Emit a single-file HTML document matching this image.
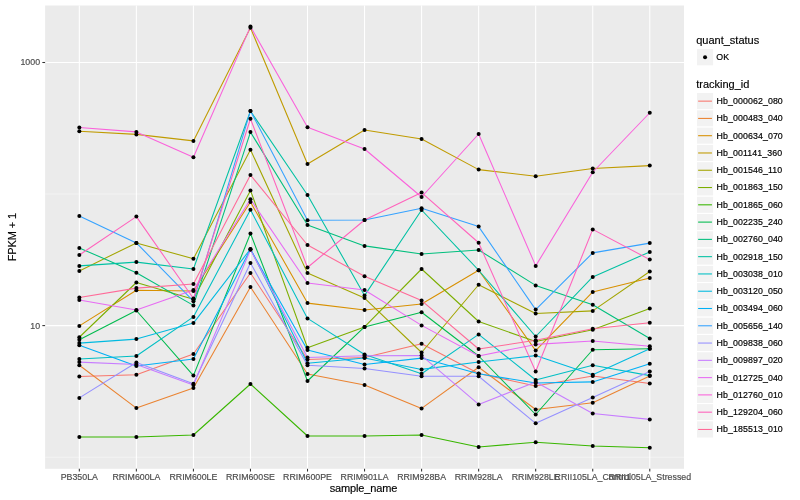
<!DOCTYPE html>
<html><head><meta charset="utf-8"><title>plot</title>
<style>
html,body{margin:0;padding:0;background:#fff;}
body{width:800px;height:500px;overflow:hidden;}
svg{display:block;will-change:transform;}
text{font-family:"Liberation Sans",sans-serif;}
.ax{font-size:8.8px;fill:#4D4D4D;stroke:#4D4D4D;stroke-width:0.18px;}
.lt{font-size:11px;fill:#000;stroke:#000;stroke-width:0.15px;}
.ll{font-size:8.8px;fill:#000;letter-spacing:0.1px;stroke:#000;stroke-width:0.18px;}
</style></head><body>
<svg width="800" height="500" viewBox="0 0 800 500">
<rect x="0" y="0" width="800" height="500" fill="#FFFFFF"/>
<rect x="45.1" y="5.5" width="638.9" height="463.3" fill="#EBEBEB"/>
<line x1="45.1" x2="684.0" y1="194.0" y2="194.0" stroke="#F3F3F3" stroke-width="1"/>
<line x1="45.1" x2="684.0" y1="457.3" y2="457.3" stroke="#F3F3F3" stroke-width="1"/>
<line x1="45.1" x2="684.0" y1="62.5" y2="62.5" stroke="#FFFFFF" stroke-width="1.07"/>
<line x1="45.1" x2="684.0" y1="325.6" y2="325.6" stroke="#FFFFFF" stroke-width="1.07"/>
<line x1="79.33" x2="79.33" y1="5.5" y2="468.8" stroke="#FFFFFF" stroke-width="1.07"/>
<line x1="136.37" x2="136.37" y1="5.5" y2="468.8" stroke="#FFFFFF" stroke-width="1.07"/>
<line x1="193.42" x2="193.42" y1="5.5" y2="468.8" stroke="#FFFFFF" stroke-width="1.07"/>
<line x1="250.46" x2="250.46" y1="5.5" y2="468.8" stroke="#FFFFFF" stroke-width="1.07"/>
<line x1="307.51" x2="307.51" y1="5.5" y2="468.8" stroke="#FFFFFF" stroke-width="1.07"/>
<line x1="364.55" x2="364.55" y1="5.5" y2="468.8" stroke="#FFFFFF" stroke-width="1.07"/>
<line x1="421.59" x2="421.59" y1="5.5" y2="468.8" stroke="#FFFFFF" stroke-width="1.07"/>
<line x1="478.64" x2="478.64" y1="5.5" y2="468.8" stroke="#FFFFFF" stroke-width="1.07"/>
<line x1="535.68" x2="535.68" y1="5.5" y2="468.8" stroke="#FFFFFF" stroke-width="1.07"/>
<line x1="592.73" x2="592.73" y1="5.5" y2="468.8" stroke="#FFFFFF" stroke-width="1.07"/>
<line x1="649.77" x2="649.77" y1="5.5" y2="468.8" stroke="#FFFFFF" stroke-width="1.07"/>
<g fill="none" stroke-width="1.07" stroke-linejoin="round" stroke-linecap="butt">
<polyline points="79.33,376.50 136.37,374.75 193.42,354.00 250.46,273.00 307.51,359.50 364.55,357.50 421.59,343.75 478.64,373.50 535.68,386.00 592.73,376.00 649.77,383.50" stroke="#F8766D"/>
<polyline points="79.33,365.25 136.37,408.10 193.42,387.90 250.46,287.00 307.51,374.00 364.55,385.00 421.59,408.40 478.64,367.25 535.68,409.50 592.73,402.75 649.77,375.90" stroke="#EA8331"/>
<polyline points="79.33,325.90 136.37,290.25 193.42,291.00 250.46,202.00 307.51,303.10 364.55,310.00 421.59,304.00 478.64,270.25 535.68,350.60 592.73,291.90 649.77,278.10" stroke="#D89000"/>
<polyline points="79.33,131.25 136.37,134.40 193.42,140.90 250.46,27.80 307.51,164.00 364.55,130.00 421.59,139.00 478.64,169.60 535.68,176.25 592.73,168.50 649.77,165.60" stroke="#C09B00"/>
<polyline points="79.33,270.90 136.37,242.90 193.42,258.75 250.46,149.70 307.51,273.10 364.55,298.10 421.59,352.50 478.64,284.75 535.68,313.50 592.73,310.90 649.77,271.50" stroke="#A3A500"/>
<polyline points="79.33,337.25 136.37,282.50 193.42,299.30 250.46,190.40 307.51,347.80 364.55,326.90 421.59,269.00 478.64,321.50 535.68,341.60 592.73,329.70 649.77,308.40" stroke="#7CAE00"/>
<polyline points="79.33,437.00 136.37,437.00 193.42,435.00 250.46,384.00 307.51,436.00 364.55,436.00 421.59,435.00 478.64,447.00 535.68,442.20 592.73,446.00 649.77,447.80" stroke="#39B600"/>
<polyline points="79.33,339.75 136.37,310.50 193.42,375.60 250.46,233.50 307.51,381.00 364.55,326.90 421.59,312.25 478.64,356.00 535.68,414.50 592.73,349.75 649.77,348.75" stroke="#00BB4E"/>
<polyline points="79.33,247.90 136.37,272.75 193.42,305.40 250.46,132.10 307.51,225.00 364.55,245.90 421.59,254.00 478.64,250.00 535.68,285.40 592.73,304.75 649.77,338.50" stroke="#00BF7D"/>
<polyline points="79.33,265.90 136.37,262.10 193.42,269.00 250.46,111.00 307.51,195.00 364.55,295.60 421.59,210.00 478.64,270.25 535.68,336.50 592.73,276.90 649.77,251.90" stroke="#00C1A3"/>
<polyline points="79.33,359.00 136.37,356.00 193.42,316.90 250.46,209.80 307.51,318.40 364.55,354.50 421.59,373.75 478.64,334.40 535.68,380.00 592.73,365.25 649.77,375.60" stroke="#00BFC4"/>
<polyline points="79.33,343.10 136.37,339.10 193.42,323.10 250.46,249.00 307.51,363.30 364.55,358.00 421.59,369.40 478.64,362.00 535.68,355.60 592.73,374.75 649.77,348.75" stroke="#00BAE0"/>
<polyline points="79.33,345.25 136.37,366.00 193.42,359.00 250.46,249.30 307.51,350.00 364.55,364.50 421.59,358.10 478.64,373.75 535.68,383.00 592.73,381.90 649.77,363.75" stroke="#00B0F6"/>
<polyline points="79.33,215.90 136.37,242.90 193.42,301.20 250.46,110.90 307.51,220.25 364.55,220.00 421.59,208.25 478.64,226.60 535.68,309.60 592.73,252.90 649.77,243.10" stroke="#35A2FF"/>
<polyline points="79.33,397.90 136.37,362.50 193.42,383.75 250.46,263.00 307.51,365.30 364.55,368.50 421.59,376.25 478.64,376.25 535.68,423.30 592.73,397.50 649.77,371.50" stroke="#9590FF"/>
<polyline points="79.33,362.10 136.37,364.50 193.42,385.00 250.46,249.80 307.51,357.50 364.55,355.70 421.59,355.60 478.64,404.40 535.68,382.00 592.73,413.50 649.77,419.40" stroke="#C77CFF"/>
<polyline points="79.33,300.00 136.37,310.00 193.42,290.00 250.46,199.30 307.51,283.00 364.55,290.00 421.59,325.40 478.64,356.00 535.68,344.40 592.73,341.00 649.77,346.25" stroke="#E76BF3"/>
<polyline points="79.33,127.50 136.37,131.90 193.42,157.25 250.46,26.60 307.51,127.25 364.55,149.00 421.59,197.00 478.64,134.00 535.68,265.90 592.73,172.25 649.77,112.75" stroke="#FA62DB"/>
<polyline points="79.33,255.00 136.37,216.60 193.42,298.50 250.46,118.75 307.51,267.50 364.55,220.00 421.59,192.60 478.64,242.75 535.68,371.50 592.73,229.40 649.77,259.60" stroke="#FF62BC"/>
<polyline points="79.33,297.50 136.37,288.10 193.42,284.00 250.46,175.00 307.51,245.00 364.55,276.25 421.59,300.60 478.64,349.00 535.68,340.30 592.73,328.70 649.77,322.75" stroke="#FF6A98"/>
</g>
<g fill="#000000">
<circle cx="79.33" cy="376.50" r="2"/><circle cx="136.37" cy="374.75" r="2"/><circle cx="193.42" cy="354.00" r="2"/><circle cx="250.46" cy="273.00" r="2"/><circle cx="307.51" cy="359.50" r="2"/><circle cx="364.55" cy="357.50" r="2"/><circle cx="421.59" cy="343.75" r="2"/><circle cx="478.64" cy="373.50" r="2"/><circle cx="535.68" cy="386.00" r="2"/><circle cx="592.73" cy="376.00" r="2"/><circle cx="649.77" cy="383.50" r="2"/>
<circle cx="79.33" cy="365.25" r="2"/><circle cx="136.37" cy="408.10" r="2"/><circle cx="193.42" cy="387.90" r="2"/><circle cx="250.46" cy="287.00" r="2"/><circle cx="307.51" cy="374.00" r="2"/><circle cx="364.55" cy="385.00" r="2"/><circle cx="421.59" cy="408.40" r="2"/><circle cx="478.64" cy="367.25" r="2"/><circle cx="535.68" cy="409.50" r="2"/><circle cx="592.73" cy="402.75" r="2"/><circle cx="649.77" cy="375.90" r="2"/>
<circle cx="79.33" cy="325.90" r="2"/><circle cx="136.37" cy="290.25" r="2"/><circle cx="193.42" cy="291.00" r="2"/><circle cx="250.46" cy="202.00" r="2"/><circle cx="307.51" cy="303.10" r="2"/><circle cx="364.55" cy="310.00" r="2"/><circle cx="421.59" cy="304.00" r="2"/><circle cx="478.64" cy="270.25" r="2"/><circle cx="535.68" cy="350.60" r="2"/><circle cx="592.73" cy="291.90" r="2"/><circle cx="649.77" cy="278.10" r="2"/>
<circle cx="79.33" cy="131.25" r="2"/><circle cx="136.37" cy="134.40" r="2"/><circle cx="193.42" cy="140.90" r="2"/><circle cx="250.46" cy="27.80" r="2"/><circle cx="307.51" cy="164.00" r="2"/><circle cx="364.55" cy="130.00" r="2"/><circle cx="421.59" cy="139.00" r="2"/><circle cx="478.64" cy="169.60" r="2"/><circle cx="535.68" cy="176.25" r="2"/><circle cx="592.73" cy="168.50" r="2"/><circle cx="649.77" cy="165.60" r="2"/>
<circle cx="79.33" cy="270.90" r="2"/><circle cx="136.37" cy="242.90" r="2"/><circle cx="193.42" cy="258.75" r="2"/><circle cx="250.46" cy="149.70" r="2"/><circle cx="307.51" cy="273.10" r="2"/><circle cx="364.55" cy="298.10" r="2"/><circle cx="421.59" cy="352.50" r="2"/><circle cx="478.64" cy="284.75" r="2"/><circle cx="535.68" cy="313.50" r="2"/><circle cx="592.73" cy="310.90" r="2"/><circle cx="649.77" cy="271.50" r="2"/>
<circle cx="79.33" cy="337.25" r="2"/><circle cx="136.37" cy="282.50" r="2"/><circle cx="193.42" cy="299.30" r="2"/><circle cx="250.46" cy="190.40" r="2"/><circle cx="307.51" cy="347.80" r="2"/><circle cx="364.55" cy="326.90" r="2"/><circle cx="421.59" cy="269.00" r="2"/><circle cx="478.64" cy="321.50" r="2"/><circle cx="535.68" cy="341.60" r="2"/><circle cx="592.73" cy="329.70" r="2"/><circle cx="649.77" cy="308.40" r="2"/>
<circle cx="79.33" cy="437.00" r="2"/><circle cx="136.37" cy="437.00" r="2"/><circle cx="193.42" cy="435.00" r="2"/><circle cx="250.46" cy="384.00" r="2"/><circle cx="307.51" cy="436.00" r="2"/><circle cx="364.55" cy="436.00" r="2"/><circle cx="421.59" cy="435.00" r="2"/><circle cx="478.64" cy="447.00" r="2"/><circle cx="535.68" cy="442.20" r="2"/><circle cx="592.73" cy="446.00" r="2"/><circle cx="649.77" cy="447.80" r="2"/>
<circle cx="79.33" cy="339.75" r="2"/><circle cx="136.37" cy="310.50" r="2"/><circle cx="193.42" cy="375.60" r="2"/><circle cx="250.46" cy="233.50" r="2"/><circle cx="307.51" cy="381.00" r="2"/><circle cx="364.55" cy="326.90" r="2"/><circle cx="421.59" cy="312.25" r="2"/><circle cx="478.64" cy="356.00" r="2"/><circle cx="535.68" cy="414.50" r="2"/><circle cx="592.73" cy="349.75" r="2"/><circle cx="649.77" cy="348.75" r="2"/>
<circle cx="79.33" cy="247.90" r="2"/><circle cx="136.37" cy="272.75" r="2"/><circle cx="193.42" cy="305.40" r="2"/><circle cx="250.46" cy="132.10" r="2"/><circle cx="307.51" cy="225.00" r="2"/><circle cx="364.55" cy="245.90" r="2"/><circle cx="421.59" cy="254.00" r="2"/><circle cx="478.64" cy="250.00" r="2"/><circle cx="535.68" cy="285.40" r="2"/><circle cx="592.73" cy="304.75" r="2"/><circle cx="649.77" cy="338.50" r="2"/>
<circle cx="79.33" cy="265.90" r="2"/><circle cx="136.37" cy="262.10" r="2"/><circle cx="193.42" cy="269.00" r="2"/><circle cx="250.46" cy="111.00" r="2"/><circle cx="307.51" cy="195.00" r="2"/><circle cx="364.55" cy="295.60" r="2"/><circle cx="421.59" cy="210.00" r="2"/><circle cx="478.64" cy="270.25" r="2"/><circle cx="535.68" cy="336.50" r="2"/><circle cx="592.73" cy="276.90" r="2"/><circle cx="649.77" cy="251.90" r="2"/>
<circle cx="79.33" cy="359.00" r="2"/><circle cx="136.37" cy="356.00" r="2"/><circle cx="193.42" cy="316.90" r="2"/><circle cx="250.46" cy="209.80" r="2"/><circle cx="307.51" cy="318.40" r="2"/><circle cx="364.55" cy="354.50" r="2"/><circle cx="421.59" cy="373.75" r="2"/><circle cx="478.64" cy="334.40" r="2"/><circle cx="535.68" cy="380.00" r="2"/><circle cx="592.73" cy="365.25" r="2"/><circle cx="649.77" cy="375.60" r="2"/>
<circle cx="79.33" cy="343.10" r="2"/><circle cx="136.37" cy="339.10" r="2"/><circle cx="193.42" cy="323.10" r="2"/><circle cx="250.46" cy="249.00" r="2"/><circle cx="307.51" cy="363.30" r="2"/><circle cx="364.55" cy="358.00" r="2"/><circle cx="421.59" cy="369.40" r="2"/><circle cx="478.64" cy="362.00" r="2"/><circle cx="535.68" cy="355.60" r="2"/><circle cx="592.73" cy="374.75" r="2"/><circle cx="649.77" cy="348.75" r="2"/>
<circle cx="79.33" cy="345.25" r="2"/><circle cx="136.37" cy="366.00" r="2"/><circle cx="193.42" cy="359.00" r="2"/><circle cx="250.46" cy="249.30" r="2"/><circle cx="307.51" cy="350.00" r="2"/><circle cx="364.55" cy="364.50" r="2"/><circle cx="421.59" cy="358.10" r="2"/><circle cx="478.64" cy="373.75" r="2"/><circle cx="535.68" cy="383.00" r="2"/><circle cx="592.73" cy="381.90" r="2"/><circle cx="649.77" cy="363.75" r="2"/>
<circle cx="79.33" cy="215.90" r="2"/><circle cx="136.37" cy="242.90" r="2"/><circle cx="193.42" cy="301.20" r="2"/><circle cx="250.46" cy="110.90" r="2"/><circle cx="307.51" cy="220.25" r="2"/><circle cx="364.55" cy="220.00" r="2"/><circle cx="421.59" cy="208.25" r="2"/><circle cx="478.64" cy="226.60" r="2"/><circle cx="535.68" cy="309.60" r="2"/><circle cx="592.73" cy="252.90" r="2"/><circle cx="649.77" cy="243.10" r="2"/>
<circle cx="79.33" cy="397.90" r="2"/><circle cx="136.37" cy="362.50" r="2"/><circle cx="193.42" cy="383.75" r="2"/><circle cx="250.46" cy="263.00" r="2"/><circle cx="307.51" cy="365.30" r="2"/><circle cx="364.55" cy="368.50" r="2"/><circle cx="421.59" cy="376.25" r="2"/><circle cx="478.64" cy="376.25" r="2"/><circle cx="535.68" cy="423.30" r="2"/><circle cx="592.73" cy="397.50" r="2"/><circle cx="649.77" cy="371.50" r="2"/>
<circle cx="79.33" cy="362.10" r="2"/><circle cx="136.37" cy="364.50" r="2"/><circle cx="193.42" cy="385.00" r="2"/><circle cx="250.46" cy="249.80" r="2"/><circle cx="307.51" cy="357.50" r="2"/><circle cx="364.55" cy="355.70" r="2"/><circle cx="421.59" cy="355.60" r="2"/><circle cx="478.64" cy="404.40" r="2"/><circle cx="535.68" cy="382.00" r="2"/><circle cx="592.73" cy="413.50" r="2"/><circle cx="649.77" cy="419.40" r="2"/>
<circle cx="79.33" cy="300.00" r="2"/><circle cx="136.37" cy="310.00" r="2"/><circle cx="193.42" cy="290.00" r="2"/><circle cx="250.46" cy="199.30" r="2"/><circle cx="307.51" cy="283.00" r="2"/><circle cx="364.55" cy="290.00" r="2"/><circle cx="421.59" cy="325.40" r="2"/><circle cx="478.64" cy="356.00" r="2"/><circle cx="535.68" cy="344.40" r="2"/><circle cx="592.73" cy="341.00" r="2"/><circle cx="649.77" cy="346.25" r="2"/>
<circle cx="79.33" cy="127.50" r="2"/><circle cx="136.37" cy="131.90" r="2"/><circle cx="193.42" cy="157.25" r="2"/><circle cx="250.46" cy="26.60" r="2"/><circle cx="307.51" cy="127.25" r="2"/><circle cx="364.55" cy="149.00" r="2"/><circle cx="421.59" cy="197.00" r="2"/><circle cx="478.64" cy="134.00" r="2"/><circle cx="535.68" cy="265.90" r="2"/><circle cx="592.73" cy="172.25" r="2"/><circle cx="649.77" cy="112.75" r="2"/>
<circle cx="79.33" cy="255.00" r="2"/><circle cx="136.37" cy="216.60" r="2"/><circle cx="193.42" cy="298.50" r="2"/><circle cx="250.46" cy="118.75" r="2"/><circle cx="307.51" cy="267.50" r="2"/><circle cx="364.55" cy="220.00" r="2"/><circle cx="421.59" cy="192.60" r="2"/><circle cx="478.64" cy="242.75" r="2"/><circle cx="535.68" cy="371.50" r="2"/><circle cx="592.73" cy="229.40" r="2"/><circle cx="649.77" cy="259.60" r="2"/>
<circle cx="79.33" cy="297.50" r="2"/><circle cx="136.37" cy="288.10" r="2"/><circle cx="193.42" cy="284.00" r="2"/><circle cx="250.46" cy="175.00" r="2"/><circle cx="307.51" cy="245.00" r="2"/><circle cx="364.55" cy="276.25" r="2"/><circle cx="421.59" cy="300.60" r="2"/><circle cx="478.64" cy="349.00" r="2"/><circle cx="535.68" cy="340.30" r="2"/><circle cx="592.73" cy="328.70" r="2"/><circle cx="649.77" cy="322.75" r="2"/>
</g>
<g stroke="#333333" stroke-width="1.07">
<line x1="42.35" x2="45.1" y1="62.5" y2="62.5"/><line x1="42.35" x2="45.1" y1="325.6" y2="325.6"/><line x1="79.33" x2="79.33" y1="468.8" y2="471.55"/><line x1="136.37" x2="136.37" y1="468.8" y2="471.55"/><line x1="193.42" x2="193.42" y1="468.8" y2="471.55"/><line x1="250.46" x2="250.46" y1="468.8" y2="471.55"/><line x1="307.51" x2="307.51" y1="468.8" y2="471.55"/><line x1="364.55" x2="364.55" y1="468.8" y2="471.55"/><line x1="421.59" x2="421.59" y1="468.8" y2="471.55"/><line x1="478.64" x2="478.64" y1="468.8" y2="471.55"/><line x1="535.68" x2="535.68" y1="468.8" y2="471.55"/><line x1="592.73" x2="592.73" y1="468.8" y2="471.55"/><line x1="649.77" x2="649.77" y1="468.8" y2="471.55"/>
</g>
<text class="ax" x="40.05" y="64.9" text-anchor="end">1000</text>
<text class="ax" x="40.05" y="328.75" text-anchor="end">10</text>
<text class="ax" x="79.33" y="479.9" text-anchor="middle">PB350LA</text>
<text class="ax" x="136.37" y="479.9" text-anchor="middle">RRIM600LA</text>
<text class="ax" x="193.42" y="479.9" text-anchor="middle">RRIM600LE</text>
<text class="ax" x="250.46" y="479.9" text-anchor="middle">RRIM600SE</text>
<text class="ax" x="307.51" y="479.9" text-anchor="middle">RRIM600PE</text>
<text class="ax" x="364.55" y="479.9" text-anchor="middle">RRIM901LA</text>
<text class="ax" x="421.59" y="479.9" text-anchor="middle">RRIM928BA</text>
<text class="ax" x="478.64" y="479.9" text-anchor="middle">RRIM928LA</text>
<text class="ax" x="535.68" y="479.9" text-anchor="middle">RRIM928LE</text>
<text class="ax" x="592.73" y="479.9" text-anchor="middle">RRII105LA_Control</text>
<text class="ax" x="649.77" y="479.9" text-anchor="middle">RRII105LA_Stressed</text>
<text class="lt" x="363.5" y="491.6" text-anchor="middle" style="letter-spacing:-0.15px">sample_name</text>
<text class="lt" transform="translate(16,237.2) rotate(-90)" text-anchor="middle" style="letter-spacing:-0.12px">FPKM + 1</text>
<text class="lt" x="696.2" y="43.8">quant_status</text>
<rect x="696.4" y="48.6" width="17.28" height="17.28" fill="#F2F2F2" stroke="#FFFFFF" stroke-width="1.07"/>
<circle cx="705.04" cy="57.24" r="2" fill="#000"/>
<text class="ll" x="716.3" y="60.1">OK</text>
<text class="lt" x="696.2" y="88.3">tracking_id</text>
<rect x="696.4" y="92.50" width="17.28" height="17.28" fill="#F2F2F2" stroke="#FFFFFF" stroke-width="1.07"/><line x1="698.13" x2="711.95" y1="101.14" y2="101.14" stroke="#F8766D" stroke-width="1.07"/><text class="ll" x="716.5" y="104.04">Hb_000062_080</text>
<rect x="696.4" y="109.78" width="17.28" height="17.28" fill="#F2F2F2" stroke="#FFFFFF" stroke-width="1.07"/><line x1="698.13" x2="711.95" y1="118.42" y2="118.42" stroke="#EA8331" stroke-width="1.07"/><text class="ll" x="716.5" y="121.32">Hb_000483_040</text>
<rect x="696.4" y="127.06" width="17.28" height="17.28" fill="#F2F2F2" stroke="#FFFFFF" stroke-width="1.07"/><line x1="698.13" x2="711.95" y1="135.70" y2="135.70" stroke="#D89000" stroke-width="1.07"/><text class="ll" x="716.5" y="138.60">Hb_000634_070</text>
<rect x="696.4" y="144.34" width="17.28" height="17.28" fill="#F2F2F2" stroke="#FFFFFF" stroke-width="1.07"/><line x1="698.13" x2="711.95" y1="152.98" y2="152.98" stroke="#C09B00" stroke-width="1.07"/><text class="ll" x="716.5" y="155.88">Hb_001141_360</text>
<rect x="696.4" y="161.62" width="17.28" height="17.28" fill="#F2F2F2" stroke="#FFFFFF" stroke-width="1.07"/><line x1="698.13" x2="711.95" y1="170.26" y2="170.26" stroke="#A3A500" stroke-width="1.07"/><text class="ll" x="716.5" y="173.16">Hb_001546_110</text>
<rect x="696.4" y="178.90" width="17.28" height="17.28" fill="#F2F2F2" stroke="#FFFFFF" stroke-width="1.07"/><line x1="698.13" x2="711.95" y1="187.54" y2="187.54" stroke="#7CAE00" stroke-width="1.07"/><text class="ll" x="716.5" y="190.44">Hb_001863_150</text>
<rect x="696.4" y="196.18" width="17.28" height="17.28" fill="#F2F2F2" stroke="#FFFFFF" stroke-width="1.07"/><line x1="698.13" x2="711.95" y1="204.82" y2="204.82" stroke="#39B600" stroke-width="1.07"/><text class="ll" x="716.5" y="207.72">Hb_001865_060</text>
<rect x="696.4" y="213.46" width="17.28" height="17.28" fill="#F2F2F2" stroke="#FFFFFF" stroke-width="1.07"/><line x1="698.13" x2="711.95" y1="222.10" y2="222.10" stroke="#00BB4E" stroke-width="1.07"/><text class="ll" x="716.5" y="225.00">Hb_002235_240</text>
<rect x="696.4" y="230.74" width="17.28" height="17.28" fill="#F2F2F2" stroke="#FFFFFF" stroke-width="1.07"/><line x1="698.13" x2="711.95" y1="239.38" y2="239.38" stroke="#00BF7D" stroke-width="1.07"/><text class="ll" x="716.5" y="242.28">Hb_002760_040</text>
<rect x="696.4" y="248.02" width="17.28" height="17.28" fill="#F2F2F2" stroke="#FFFFFF" stroke-width="1.07"/><line x1="698.13" x2="711.95" y1="256.66" y2="256.66" stroke="#00C1A3" stroke-width="1.07"/><text class="ll" x="716.5" y="259.56">Hb_002918_150</text>
<rect x="696.4" y="265.30" width="17.28" height="17.28" fill="#F2F2F2" stroke="#FFFFFF" stroke-width="1.07"/><line x1="698.13" x2="711.95" y1="273.94" y2="273.94" stroke="#00BFC4" stroke-width="1.07"/><text class="ll" x="716.5" y="276.84">Hb_003038_010</text>
<rect x="696.4" y="282.58" width="17.28" height="17.28" fill="#F2F2F2" stroke="#FFFFFF" stroke-width="1.07"/><line x1="698.13" x2="711.95" y1="291.22" y2="291.22" stroke="#00BAE0" stroke-width="1.07"/><text class="ll" x="716.5" y="294.12">Hb_003120_050</text>
<rect x="696.4" y="299.86" width="17.28" height="17.28" fill="#F2F2F2" stroke="#FFFFFF" stroke-width="1.07"/><line x1="698.13" x2="711.95" y1="308.50" y2="308.50" stroke="#00B0F6" stroke-width="1.07"/><text class="ll" x="716.5" y="311.40">Hb_003494_060</text>
<rect x="696.4" y="317.14" width="17.28" height="17.28" fill="#F2F2F2" stroke="#FFFFFF" stroke-width="1.07"/><line x1="698.13" x2="711.95" y1="325.78" y2="325.78" stroke="#35A2FF" stroke-width="1.07"/><text class="ll" x="716.5" y="328.68">Hb_005656_140</text>
<rect x="696.4" y="334.42" width="17.28" height="17.28" fill="#F2F2F2" stroke="#FFFFFF" stroke-width="1.07"/><line x1="698.13" x2="711.95" y1="343.06" y2="343.06" stroke="#9590FF" stroke-width="1.07"/><text class="ll" x="716.5" y="345.96">Hb_009838_060</text>
<rect x="696.4" y="351.70" width="17.28" height="17.28" fill="#F2F2F2" stroke="#FFFFFF" stroke-width="1.07"/><line x1="698.13" x2="711.95" y1="360.34" y2="360.34" stroke="#C77CFF" stroke-width="1.07"/><text class="ll" x="716.5" y="363.24">Hb_009897_020</text>
<rect x="696.4" y="368.98" width="17.28" height="17.28" fill="#F2F2F2" stroke="#FFFFFF" stroke-width="1.07"/><line x1="698.13" x2="711.95" y1="377.62" y2="377.62" stroke="#E76BF3" stroke-width="1.07"/><text class="ll" x="716.5" y="380.52">Hb_012725_040</text>
<rect x="696.4" y="386.26" width="17.28" height="17.28" fill="#F2F2F2" stroke="#FFFFFF" stroke-width="1.07"/><line x1="698.13" x2="711.95" y1="394.90" y2="394.90" stroke="#FA62DB" stroke-width="1.07"/><text class="ll" x="716.5" y="397.80">Hb_012760_010</text>
<rect x="696.4" y="403.54" width="17.28" height="17.28" fill="#F2F2F2" stroke="#FFFFFF" stroke-width="1.07"/><line x1="698.13" x2="711.95" y1="412.18" y2="412.18" stroke="#FF62BC" stroke-width="1.07"/><text class="ll" x="716.5" y="415.08">Hb_129204_060</text>
<rect x="696.4" y="420.82" width="17.28" height="17.28" fill="#F2F2F2" stroke="#FFFFFF" stroke-width="1.07"/><line x1="698.13" x2="711.95" y1="429.46" y2="429.46" stroke="#FF6A98" stroke-width="1.07"/><text class="ll" x="716.5" y="432.36">Hb_185513_010</text>
</svg>
</body></html>
